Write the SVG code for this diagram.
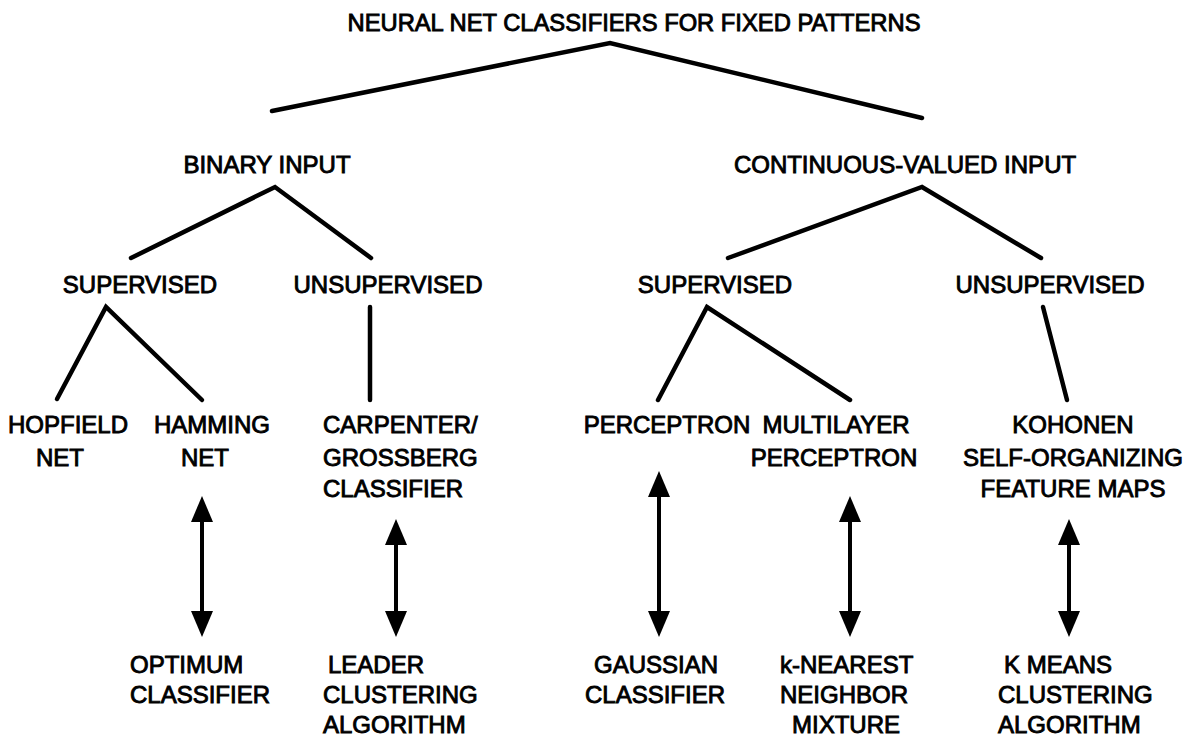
<svg xmlns="http://www.w3.org/2000/svg" width="1194" height="739" viewBox="0 0 1194 739">
<style>
text{font-family:"Liberation Sans",Arial,Helvetica,sans-serif;font-size:24px;fill:#000;stroke:#000;stroke-width:0.9px}
.m{text-anchor:middle}
.ln{fill:none;stroke:#000;stroke-width:4.5;stroke-linecap:round;stroke-linejoin:miter}
.ar{fill:none;stroke:#000;stroke-width:4;marker-start:url(#ah);marker-end:url(#ah)}
</style>
<defs>
<marker id="ah" markerUnits="userSpaceOnUse" markerWidth="26" markerHeight="22" viewBox="0 0 26 22" refX="1" refY="11" orient="auto-start-reverse">
<path d="M0,0 L26,11 L0,22 z" fill="#000"/>
</marker>
</defs>
<rect width="1194" height="739" fill="#fff"/>
<g id="connectors">
<polyline class="ln" points="272,111 610,43 922,118"/>
<polyline class="ln" points="131,258 275,187 371,258"/>
<polyline class="ln" points="728,258 922,187 1041,258"/>
<polyline class="ln" points="57,399 106,307 202,400"/>
<line class="ln" x1="370" y1="307" x2="370" y2="400"/>
<polyline class="ln" points="658,400 707,307 850,400"/>
<line class="ln" x1="1043" y1="307" x2="1067" y2="400"/>
<line class="ar" x1="202" y1="521" x2="202" y2="612"/>
<line class="ar" x1="396" y1="544" x2="396" y2="612"/>
<line class="ar" x1="659" y1="496" x2="659" y2="612"/>
<line class="ar" x1="850" y1="521" x2="850" y2="612"/>
<line class="ar" x1="1069" y1="544" x2="1069" y2="612"/>
</g>
<g id="root"><text class="m" x="634" y="31" textLength="573" lengthAdjust="spacingAndGlyphs">NEURAL NET CLASSIFIERS FOR FIXED PATTERNS</text></g>
<g id="binary"><text class="m" x="267" y="173">BINARY INPUT</text></g>
<g id="continuous"><text class="m" x="905" y="173">CONTINUOUS-VALUED INPUT</text></g>
<g id="bin-sup"><text class="m" x="140" y="293">SUPERVISED</text></g>
<g id="bin-unsup"><text class="m" x="388" y="293">UNSUPERVISED</text></g>
<g id="cont-sup"><text class="m" x="715" y="293">SUPERVISED</text></g>
<g id="cont-unsup"><text class="m" x="1050" y="293">UNSUPERVISED</text></g>
<g id="hopfield"><text class="m" x="68" y="433">HOPFIELD</text><text class="m" x="60" y="466">NET</text></g>
<g id="hamming"><text class="m" x="212" y="433">HAMMING</text><text class="m" x="205" y="466">NET</text></g>
<g id="carpenter"><text x="323" y="433">CARPENTER/</text><text x="323" y="466">GROSSBERG</text><text x="323" y="497">CLASSIFIER</text></g>
<g id="perceptron"><text class="m" x="667" y="433">PERCEPTRON</text></g>
<g id="multilayer"><text class="m" x="836" y="433">MULTILAYER</text><text class="m" x="834" y="466">PERCEPTRON</text></g>
<g id="kohonen"><text class="m" x="1073" y="433">KOHONEN</text><text class="m" x="1073" y="466">SELF-ORGANIZING</text><text class="m" x="1073" y="497">FEATURE MAPS</text></g>
<g id="optimum"><text x="130" y="673">OPTIMUM</text><text x="130" y="703">CLASSIFIER</text></g>
<g id="leader"><text x="328" y="673">LEADER</text><text x="323" y="703">CLUSTERING</text><text x="323" y="733">ALGORITHM</text></g>
<g id="gaussian"><text class="m" x="656" y="673">GAUSSIAN</text><text class="m" x="655" y="703">CLASSIFIER</text></g>
<g id="knn"><text x="780" y="673">k-NEAREST</text><text x="780" y="703">NEIGHBOR</text><text x="792" y="733">MIXTURE</text></g>
<g id="kmeans"><text x="1004" y="673">K MEANS</text><text x="998" y="703">CLUSTERING</text><text x="998" y="733">ALGORITHM</text></g>
</svg>
